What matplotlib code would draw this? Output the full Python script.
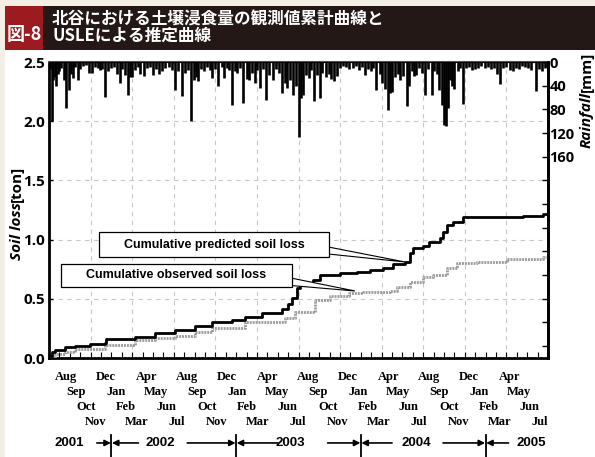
import matplotlib
matplotlib.use("Agg")
import matplotlib.pyplot as plt
from matplotlib.patches import Rectangle, Polygon

# x axis: months counted from 1 Jul 2001 (0) to 1 Jul 2005 (48)
pred_x = [0, 0.3, 0.6, 1.5, 2.5, 3.9, 5.4, 5.5, 8.3, 10.2, 12.1, 14.0, 15.7, 17.6,
          18.9, 20.5, 22.4, 23.0, 23.4, 23.9, 24.1, 25.4, 26.1, 28.0, 29.6, 30.9,
          32.1, 33.1, 34.2, 34.7, 35.0, 36.0, 36.6, 37.6, 37.9, 38.3, 38.9, 39.8,
          42.4, 45.6, 47.5, 48.0]
pred_y = [0.02, 0.05, 0.07, 0.09, 0.10, 0.12, 0.13, 0.16, 0.18, 0.21, 0.24, 0.27,
          0.30, 0.32, 0.35, 0.38, 0.41, 0.46, 0.51, 0.59, 0.62, 0.66, 0.70, 0.72,
          0.73, 0.74, 0.76, 0.79, 0.81, 0.89, 0.93, 0.95, 0.98, 1.01, 1.06, 1.12,
          1.15, 1.19, 1.195, 1.20, 1.22, 1.23]

obs_x = [0, 0.3, 0.6, 1.5, 2.5, 5.4, 8.3, 10.2, 12.1, 14.0, 15.7, 18.9, 22.7, 23.7,
         25.6, 27.0, 28.9, 30.2, 32.8, 33.5, 34.7, 36.0, 36.9, 38.3, 39.2, 41.2,
         44.1, 45.6, 47.5, 48.0]
obs_y = [0.0, 0.01, 0.03, 0.05, 0.08, 0.11, 0.15, 0.17, 0.19, 0.22, 0.25, 0.30,
         0.34, 0.39, 0.49, 0.52, 0.55, 0.56, 0.57, 0.60, 0.64, 0.68, 0.70, 0.76,
         0.80, 0.81, 0.84, 0.84, 0.85, 0.86]

rain_x = [0.1, 0.26, 0.4, 0.55, 0.7, 0.85, 1.0, 1.2, 1.4, 1.63, 1.9, 2.1, 2.3, 2.5,
          2.8, 3.0, 3.3, 3.6, 3.8, 4.1, 4.4, 4.7, 4.9, 5.1, 5.4, 5.7, 6.0, 6.3, 6.5,
          6.8, 7.0, 7.3, 7.6, 7.8, 8.0, 8.3, 8.6, 8.8, 9.1, 9.4, 9.7, 10.0, 10.3,
          10.6, 10.9, 11.2, 11.5, 11.8, 12.1, 12.4, 12.8, 13.1, 13.4, 13.7, 13.9,
          14.1, 14.3, 14.6, 14.9, 15.2, 15.5, 15.7, 16.0, 16.3, 16.6, 16.8, 17.1,
          17.3, 17.6, 17.9, 18.1, 18.4, 18.7, 19.0, 19.2, 19.5, 19.8, 20.0, 20.3,
          20.6, 20.9, 21.2, 21.5, 21.8, 22.1, 22.4, 22.7, 22.9, 23.2, 23.5, 23.8,
          24.0, 24.2, 24.4, 24.7, 25.0, 25.2, 25.5, 25.8, 26.1, 26.3, 26.6, 26.9,
          27.1, 27.4, 27.7, 28.0, 28.3, 28.6, 28.9, 29.2, 29.5, 29.8, 30.1, 30.4,
          30.7, 31.0, 31.2, 31.5, 31.8, 32.0, 32.3, 32.6, 32.8, 33.0, 33.3, 33.6,
          33.8, 34.1, 34.4, 34.6, 34.9, 35.1, 35.3, 35.6, 35.9, 36.2, 36.5, 36.8,
          37.0, 37.3, 37.5, 37.8, 38.0, 38.2, 38.4, 38.6, 38.8, 39.0, 39.3, 39.5,
          39.8, 40.1, 40.4, 40.7, 41.0, 41.3, 41.6, 41.9, 42.2, 42.5, 42.8, 43.1,
          43.4, 43.7, 44.0, 44.3, 44.6, 44.9, 45.2, 45.5, 45.8, 46.1, 46.4, 46.8,
          47.1, 47.4, 47.7, 47.9]
rain_mm = [12, 100, 30, 25, 40, 20, 15, 10, 30, 78, 47, 20, 27, 8,
           30, 12, 6, 5, 19, 19, 8, 10, 14, 12, 59, 16, 10, 8, 20,
           35, 12, 22, 55, 25, 25, 14, 8, 20, 24, 10, 8, 22, 12,
           20, 16, 10, 8, 14, 47, 15, 57, 18, 14, 100, 30,
           25, 32, 12, 15, 8, 14, 27, 12, 40, 8, 27, 10,
           14, 73, 15, 18, 10, 69, 28, 30, 18, 36, 14, 44,
           12, 64, 22, 30, 12, 18, 52, 36, 44, 30, 55, 40,
           127, 61, 55, 22, 27, 14, 66, 22, 61, 18, 25, 20,
           28, 32, 24, 10, 6, 8, 12, 10, 6, 14, 8, 22,
           12, 16, 10, 47, 20, 35, 45, 81, 52, 50, 25, 20,
           30, 24, 74, 40, 15, 24, 22, 10, 18, 55, 12, 55,
           15, 20, 48, 72, 106, 108, 78, 30, 40, 45, 15, 10,
           71, 10, 8, 14, 12, 10, 6, 10, 8, 12, 10, 20,
           37, 10, 8, 14, 16, 10, 12, 6, 8, 10, 14, 49,
           12, 16, 10, 8]

month_cycle = ["Aug", "Sep", "Oct", "Nov", "Dec", "Jan",
               "Feb", "Mar", "Apr", "May", "Jun", "Jul"]
month_labels = month_cycle * 4
year_labels = ["2001", "2002", "2003", "2004", "2005"]
year_x = [1.9, 10.7, 23.2, 35.3, 46.4]
year_bounds = [6, 18, 30, 42]
arrow_in_from = [4.6, 13.3, 26.8, 37.9]
arrow_out_from = [8.6, 22.0, 33.0, 44.2]

W, H = 595, 457
fig = plt.figure(figsize=(W / 100, H / 100), dpi=100, facecolor="#f3efe4")

# white panel, title bar
fig.add_artist(Rectangle((5 / W, 0), 590 / W, 407 / H, transform=fig.transFigure,
                         facecolor="white", edgecolor="none", zorder=-5))
fig.add_artist(Rectangle((5 / W, 407 / H), 590 / W, 44 / H, transform=fig.transFigure,
                         facecolor="#231816", edgecolor="none", zorder=-4))
fig.add_artist(Rectangle((5 / W, 407 / H), 38 / W, 44 / H, transform=fig.transFigure,
                         facecolor="#9b1b1f", edgecolor="none", zorder=-3))
jp = ["Noto Sans CJK JP", "DejaVu Sans"]
fig.text(24 / W, (H - 35) / H, "図-8", color="white", family=jp, weight="bold",
         fontsize=13, ha="center", va="center")
fig.text(52 / W, (H - 19.5) / H, "北谷における土壌浸食量の観測値累計曲線と",
         color="white", family=jp, weight="bold", fontsize=12, ha="left", va="center")
fig.text(52 / W, (H - 36) / H, "USLEによる推定曲線",
         color="white", family=jp, weight="bold", fontsize=12, ha="left", va="center")

ax = fig.add_axes([49 / W, (H - 358) / H, 499 / W, 296 / H])
ax.set_xlim(0, 48)
ax.set_ylim(0, 2.5)
ax.set_facecolor("white")

for v in range(4, 48, 4):
    ax.axvline(v, color="#c8c8c8", lw=0.8, ls=(0, (4, 4)), zorder=0)
for h in [0.5, 1.0, 1.5, 2.0]:
    ax.axhline(h, color="#c8c8c8", lw=0.8, ls=(0, (4, 4)), zorder=0)

ax.plot(obs_x, obs_y, drawstyle="steps-post", color="#9a9a9a", lw=2.0,
        ls=(0, (0.7, 0.35)), zorder=3)
ax.plot(pred_x, pred_y, drawstyle="steps-post", color="black", lw=2.0, zorder=4)

# callouts
ax.add_patch(Polygon([(26.9, 0.937), (34.24, 0.811), (26.9, 0.878)], closed=True,
                     facecolor="white", edgecolor="black", lw=0.8, zorder=5))
ax.add_patch(Rectangle((4.81, 0.853), 22.12, 0.211, facecolor="white",
                       edgecolor="black", lw=0.9, zorder=6))
ax.text(15.9, 0.958, "Cumulative predicted soil loss", family="Liberation Sans",
        weight="bold", fontsize=9, ha="center", va="center", zorder=7)
ax.add_patch(Polygon([(23.3, 0.675), (29.43, 0.566), (23.3, 0.612)], closed=True,
                     facecolor="white", edgecolor="black", lw=0.8, zorder=5))
ax.add_patch(Rectangle((1.15, 0.60), 22.2, 0.194, facecolor="white",
                       edgecolor="black", lw=0.9, zorder=6))
ax.text(12.2, 0.697, "Cumulative observed soil loss", family="Liberation Sans",
        weight="bold", fontsize=9, ha="center", va="center", zorder=7)

ax.set_yticks([0, 0.5, 1.0, 1.5, 2.0, 2.5])
ax.set_yticklabels(["0.0", "0.5", "1.0", "1.5", "2.0", "2.5"],
                   family="Open Sans", weight="bold", fontsize=11)
ax.set_xticks(range(0, 49))
ax.set_xticklabels([])
ax.tick_params(axis="x", direction="in", length=4, width=0.8, top=False)
ax.tick_params(axis="y", direction="in", length=3, width=1, pad=3)
for s in ["left", "bottom", "right"]:
    ax.spines[s].set_linewidth(2)
ax.spines["top"].set_linewidth(1.5)
ax.spines["top"].set_color("#555555")

# rainfall, hanging from the top
ax2 = ax.twinx()
ax2.set_ylim(500, 0)
ax2.vlines(rain_x, 0, rain_mm, color="black", lw=1.9)
ax2.set_yticks(range(0, 481, 40))
ax2.set_yticklabels(["0", "40", "80", "120", "160"] + [""] * 8,
                    family="Open Sans", weight="bold", fontsize=10.5)
ax2.tick_params(axis="y", direction="in", length=4, width=1, pad=1)
ax2.spines["right"].set_linewidth(2)

# axis titles
fig.text(17 / W, (H - 202) / H, "Soil loss", rotation=90, style="italic",
         family="Open Sans", weight="bold", fontsize=11, ha="center", va="top")
fig.text(17 / W, (H - 202) / H, "[ton]", rotation=90,
         family="Open Sans", weight="bold", fontsize=11, ha="center", va="bottom")
fig.text(587 / W, (H - 92) / H, "Rainfall", rotation=90, style="italic",
         family="Open Sans", weight="bold", fontsize=11, ha="center", va="top")
fig.text(587 / W, (H - 92) / H, "[mm]", rotation=90,
         family="Open Sans", weight="bold", fontsize=11, ha="center", va="bottom")

# month labels, staircase in four rows
tr = ax.get_xaxis_transform()
row_y = [-0.064, -0.115, -0.166, -0.216]
for k, name in enumerate(month_labels):
    ax.text(1.6 + 0.97 * k, row_y[k % 4], name, transform=tr, family="Liberation Serif",
            weight="bold", fontsize=9, ha="center", va="center", clip_on=False)

year_y = -0.287
for lab, x in zip(year_labels, year_x):
    ax.text(x, year_y, lab, transform=tr, family="Liberation Sans", weight="bold",
            fontsize=9.5, ha="center", va="center", clip_on=False)
for b, a_in, a_out in zip(year_bounds, arrow_in_from, arrow_out_from):
    ax.plot([b, b], [-0.26, -0.335], transform=tr, color="black", lw=1.3, clip_on=False)
    ax.annotate("", xy=(b - 0.05, year_y), xytext=(a_in, year_y), xycoords=tr,
                textcoords=tr, arrowprops=dict(arrowstyle="-|>", lw=1.2, color="black",
                                               mutation_scale=9, shrinkA=0, shrinkB=0))
    ax.annotate("", xy=(b + 0.05, year_y), xytext=(a_out, year_y), xycoords=tr,
                textcoords=tr, arrowprops=dict(arrowstyle="-|>", lw=1.2, color="black",
                                               mutation_scale=9, shrinkA=0, shrinkB=0))

fig.savefig("out.png", dpi=100, facecolor=fig.get_facecolor())
